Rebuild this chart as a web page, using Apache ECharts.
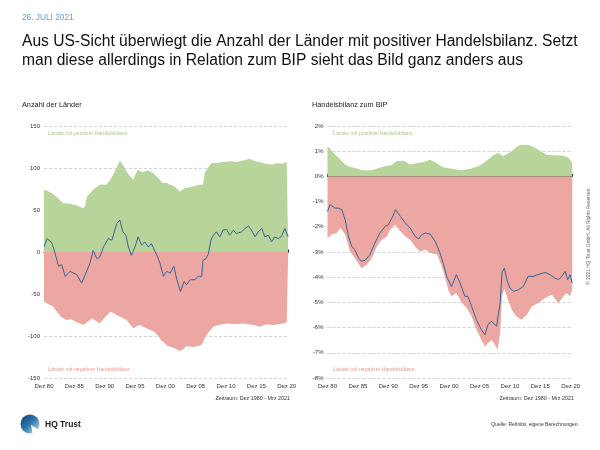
<!DOCTYPE html>
<html>
<head>
<meta charset="utf-8">
<script src="https://cdn.jsdelivr.net/npm/echarts@6/dist/echarts.min.js"></script>
<style>html,body{margin:0;padding:0;background:#fff}#c{width:600px;height:450px}</style>
</head>
<body>
<div id="c"></div>
<script>
// x values: years since Dez 1980
const xTickYears = [0, 5, 10, 15, 20, 25, 30, 35, 40];
const leftTicks = [-150, -100, -50, 0, 50, 100, 150];
const rightTicks = [-8, -7, -6, -5, -4, -3, -2, -1, 0, 1, 2];

const leftPos = [[0,74],[0.5,73],[1.3,70],[2,66],[2.6,62],[3.2,58],[3.7,58],[4.5,57],[5.5,55],[6.5,52],[6.8,55],[7.1,66],[7.6,70],[8.1,74],[9.2,80],[10.3,80],[11.1,88],[11.7,96],[12.2,104],[12.5,109],[13,104],[13.6,96],[14.2,90],[14.7,86],[15.2,94],[15.5,98],[16.2,95],[17,97],[18,94],[18.8,88],[19.6,82],[20.3,82],[20.8,80],[21.5,78],[22.4,72],[23.2,76],[24.6,78],[25.5,80],[26.2,80],[26.5,94],[27,100],[27.6,106],[28.5,106],[29.5,107],[30.5,108],[31.7,107],[32.8,109],[33.9,111],[34.8,108],[35.6,107],[36.5,105],[37.7,104],[38.5,106],[39.3,105],[40,107],[40.25,108]];
const leftNeg = [[0,-59],[0.7,-62],[1.5,-65],[2.2,-72],[2.8,-77],[3.7,-81],[4.5,-80],[5.2,-83],[5.9,-85],[6.5,-87],[7.2,-83],[7.9,-79],[8.6,-82],[9.2,-85],[10,-78],[10.9,-71],[11.5,-73],[12,-75],[12.8,-78],[13.6,-81],[14.2,-86],[14.7,-91],[15.3,-88],[15.8,-87],[16.6,-90],[17.5,-93],[18.2,-95],[18.8,-100],[19.3,-105],[19.8,-108],[20.4,-112],[21,-113],[21.6,-115],[22.4,-118],[22.9,-116],[23.5,-112],[24.6,-113],[25.5,-112],[26,-110],[26.6,-101],[27.2,-95],[27.9,-89],[28.8,-87],[30.1,-85],[31.5,-86],[32.6,-85],[33.6,-86],[34.5,-87],[35.6,-89],[36.6,-86],[37.7,-87],[38.6,-86],[39.4,-85],[40,-84],[40.25,-85]];
const leftNet = [[0,6],[0.5,16],[1.3,11],[1.8,-1],[2.4,-17],[2.9,-15],[3.5,-29],[4.3,-23],[5.4,-27],[6.2,-37],[6.8,-27],[7.6,-13],[8.1,2],[8.7,-8],[9.2,-6],[9.8,6],[10.6,16],[11.2,14],[11.5,22],[12,34],[12.5,38],[13,24],[13.5,20],[13.9,6],[14.4,-4],[15,6],[15.5,18],[16.1,8],[16.6,12],[17.2,6],[17.7,10],[18.6,-4],[19.1,-13],[19.7,-29],[20.2,-23],[20.8,-25],[21.4,-17],[21.9,-33],[22.5,-47],[23.1,-35],[23.5,-39],[24.1,-33],[24.9,-33],[25.4,-29],[26,-29],[26.2,-10],[26.7,-8],[27.1,-2],[27.5,14],[27.9,20],[28.4,24],[29,18],[29.5,26],[30.1,27],[30.6,20],[31.2,26],[31.7,22],[32.6,24],[33.1,28],[33.7,31],[34.2,26],[34.8,18],[35.3,24],[35.9,28],[36.4,18],[37,20],[37.5,12],[38,18],[38.6,16],[39.1,18],[39.7,28],[40.25,18]];

const rightPos = [[0,1.19],[0.6,1.05],[1.25,0.86],[1.8,0.75],[2.35,0.6],[3,0.45],[3.45,0.4],[4.5,0.33],[5.5,0.26],[6.2,0.23],[7.3,0.24],[8.4,0.33],[9.5,0.4],[10.6,0.46],[11.3,0.6],[12.5,0.62],[13.6,0.47],[14.7,0.52],[15.8,0.57],[16.9,0.66],[18,0.52],[19.1,0.35],[20.5,0.3],[22.1,0.24],[23.5,0.3],[24.8,0.4],[25.6,0.52],[26.4,0.66],[27.3,0.85],[28.1,0.93],[28.9,0.8],[29.6,0.9],[30.3,1.0],[31,1.15],[31.7,1.26],[32.4,1.24],[33,1.26],[33.8,1.18],[34.7,1.06],[35.4,0.95],[36,0.86],[37,0.84],[38.5,0.83],[39.6,0.75],[40,0.62],[40.25,0.52]];
const rightNeg = [[0,-2.44],[0.7,-2.31],[1.5,-2.25],[2.1,-2.05],[2.9,-2.31],[3.7,-2.98],[4.5,-3.24],[5.6,-3.64],[6.5,-3.5],[7.3,-3.24],[8.1,-2.78],[8.9,-2.51],[9.8,-2.38],[10.3,-2.12],[11.1,-1.92],[12,-2.18],[12.8,-2.38],[13.6,-2.51],[14.4,-2.78],[15.2,-2.98],[16.1,-2.91],[16.9,-3.04],[18,-3.1],[18.8,-3.57],[19.6,-4.23],[19.85,-4.5],[20.4,-4.76],[21.2,-4.63],[22.1,-5.02],[22.9,-5.22],[23.7,-5.56],[24.5,-6.08],[25.3,-6.48],[25.9,-6.75],[26.4,-6.61],[27,-6.48],[27.5,-6.67],[28,-6.88],[28.4,-6.2],[28.7,-4.76],[29.1,-4.45],[29.7,-4.89],[30.3,-5.29],[31.1,-5.56],[31.9,-5.69],[32.8,-5.49],[33.6,-5.16],[34.7,-5.02],[35.8,-4.83],[36.9,-4.7],[38,-5.02],[38.8,-4.76],[39.3,-4.63],[39.9,-4.76],[40.25,-4.5]];
const rightNet = [[0,-1.39],[0.4,-1.12],[1.25,-1.26],[1.8,-1.26],[2.35,-1.32],[2.9,-1.72],[3.45,-2.38],[4,-2.78],[4.5,-2.91],[5.1,-3.24],[5.6,-3.37],[6.2,-3.33],[7,-3.1],[7.8,-2.64],[8.6,-2.25],[9.5,-1.98],[10,-1.92],[10.6,-1.65],[11.2,-1.32],[12,-1.59],[12.8,-1.85],[13.6,-2.05],[14.4,-2.38],[15,-2.48],[15.5,-2.31],[16.1,-2.25],[16.9,-2.29],[17.7,-2.58],[18.5,-3.04],[19.1,-3.5],[19.6,-3.97],[19.85,-4.1],[20.4,-4.37],[21.2,-3.9],[21.8,-4.23],[22.6,-4.76],[23.1,-4.76],[23.7,-5.16],[24.5,-5.69],[25.3,-6.08],[25.9,-6.28],[26.4,-5.88],[27,-5.75],[27.8,-5.95],[28.4,-5.02],[28.7,-3.83],[29.1,-3.64],[29.5,-4.1],[30,-4.43],[30.6,-4.56],[31.4,-4.5],[32.2,-4.37],[33,-3.97],[33.8,-3.97],[34.6,-3.9],[35.8,-3.81],[36.6,-3.9],[37.4,-4.03],[38,-4.1],[38.5,-3.97],[39.1,-3.77],[39.5,-4.1],[39.9,-3.9],[40.25,-4.23]];

const GREEN = '#b7d49b', RED = '#eca7a2', BLUE = '#3a6494';
const FONT = '"Liberation Sans", Arial, sans-serif';

function xLabel(v) {
  if (xTickYears.indexOf(v) < 0) return '';
  return 'Dez ' + String((80 + v) % 100).padStart(2, '0');
}

function xAxesFor(grid) {
  return [
    { type: 'value', gridIndex: grid, min: 0, max: 40.25, interval: 5,
      axisLine: { show: false, onZero: false }, axisTick: { show: false }, splitLine: { show: false },
      axisLabel: { formatter: xLabel, fontSize: 6, color: '#333', margin: 5, fontFamily: FONT, showMaxLabel: false } },
    { type: 'value', gridIndex: grid, min: 0, max: 40.25, interval: 5,
      axisLine: { show: true, onZero: true, lineStyle: { color: '#111', width: 1.2 } },
      axisTick: { show: true, length: 2.5, lineStyle: { color: '#111', width: 1 } },
      axisLabel: { show: false }, splitLine: { show: false } }
  ];
}

function yAxisFor(grid, min, max, fmt) {
  return { type: 'value', gridIndex: grid, min: min, max: max, interval: grid === 0 ? 50 : 1,
    axisLine: { show: false }, axisTick: { show: false },
    axisLabel: { formatter: fmt, fontSize: 6, color: '#333', margin: 4, fontFamily: FONT },
    splitLine: { show: true, lineStyle: { color: '#c8c8c8', type: [3, 2], width: 0.8 } } };
}

function area(data, color, xi, yi) {
  return { type: 'line', data: data, xAxisIndex: xi, yAxisIndex: yi, showSymbol: false, symbol: 'none',
    lineStyle: { width: 0 }, areaStyle: { color: color, opacity: 1 }, silent: true, animation: false, z: 1 };
}
function netLine(data, xi, yi) {
  return { type: 'line', data: data, xAxisIndex: xi, yAxisIndex: yi, showSymbol: false, symbol: 'none',
    lineStyle: { width: 1, color: BLUE }, silent: true, animation: false, z: 3 };
}

function txt(text, x, y, size, color, align, weight) {
  return { type: 'text', x: x, y: y, silent: true,
    style: { text: text, font: (weight ? weight + ' ' : '') + size + 'px ' + FONT, fill: color, textAlign: align || 'left', textVerticalAlign: 'middle' } };
}

const chart = echarts.init(document.getElementById('c'), null, { renderer: 'canvas' });
chart.setOption({
  animation: false,
  grid: [
    { left: 44, top: 126, width: 244.2, height: 252 },
    { left: 327.5, top: 126, width: 244.7, height: 252 }
  ],
  xAxis: xAxesFor(0).concat(xAxesFor(1)),
  yAxis: [
    yAxisFor(0, -150, 150, v => String(v)),
    yAxisFor(1, -8, 2, v => v + '%')
  ],
  series: [
    area(leftPos, GREEN, 1, 0), area(leftNeg, RED, 1, 0), netLine(leftNet, 1, 0),
    area(rightPos, GREEN, 3, 1), area(rightNeg, RED, 3, 1), netLine(rightNet, 3, 1)
  ],
  graphic: [
    txt('26. JULI 2021', 22, 18, 8.3, '#6b9cc9'),
    txt('Aus US-Sicht überwiegt die Anzahl der Länder mit positiver Handelsbilanz. Setzt', 22, 42, 15.6, '#111'),
    txt('man diese allerdings in Relation zum BIP sieht das Bild ganz anders aus', 22, 61, 15.6, '#111'),
    txt('Anzahl der Länder', 22, 105, 7.3, '#222'),
    txt('Handelsbilanz zum BIP', 312, 105, 7.3, '#222'),
    txt('Länder mit positiver Handelsbilanz', 48, 134, 5.2, '#a9c98c'),
    txt('Länder mit positiver Handelsbilanz', 333, 134, 5.2, '#a9c98c'),
    txt('Länder mit negativer Handelsbilanz', 48, 370, 5.2, '#e89a94'),
    txt('Länder mit negativer Handelsbilanz', 333, 370, 5.2, '#e89a94'),
    txt('Summe aus positiven und negativen', 163, 216, 5.6, BLUE),
    txt('Summe aus positiven und negativen', 456, 218, 5.6, BLUE),
    txt('Zeitraum: Dez 1980 - Mrz 2021', 290, 399, 5.4, '#333', 'right'),
    txt('Zeitraum: Dez 1980 - Mrz 2021', 574, 399, 5.4, '#333', 'right'),
    txt('Quelle: Refinitiv, eigene Berechnungen.', 579, 425, 5, '#333', 'right'),
    txt('HQ Trust', 45, 425, 8.5, '#222', 'left', 'bold'),
    { type: 'text', x: 589, y: 236, rotation: Math.PI / 2, silent: true,
      style: { text: '© 2021 HQ Trust GmbH. All Rights Reserved.', font: '4.8px ' + FONT, fill: '#666', textAlign: 'center', textVerticalAlign: 'middle' } },
    { type: 'circle', silent: true, shape: { cx: 30, cy: 424, r: 9.5 },
      style: { fill: new echarts.graphic.LinearGradient(0, 0, 1, 1, [{ offset: 0, color: '#06406e' }, { offset: 0.5, color: '#2f79ae' }, { offset: 1, color: '#dfeaf3' }]) } },
    { type: 'polygon', silent: true, shape: { points: [[31, 425], [41, 431], [41, 436], [33, 436]] }, style: { fill: '#fff' } }
  ]
});
</script>
</body>
</html>
